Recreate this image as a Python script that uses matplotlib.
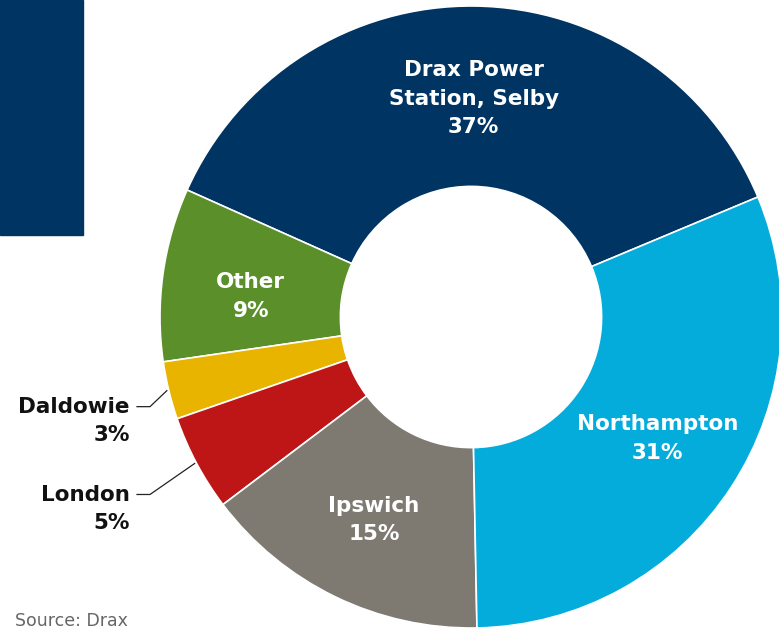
import numpy as np
import matplotlib.pyplot as plt
from matplotlib.patches import Rectangle

# data
sites = ["Drax Power\nStation, Selby", "Other", "Daldowie", "London", "Ipswich", "Northampton"]
shares = [37, 9, 3, 5, 15, 31]
colors = ["#003463", "#5a8f2a", "#e9b400", "#be1616", "#7e7a72", "#04acdc"]
inside = [True, True, False, False, True, True]

W, H = 779, 630
fig = plt.figure(figsize=(W / 100, H / 100), dpi=100)
ax = fig.add_axes([0, 0, 1, 1])

cx, cy, R = 471, H - 317, 311
wedges, _ = ax.pie(shares, colors=colors, startangle=22.7, counterclock=True,
                   radius=R, center=(cx, cy), frame=True,
                   wedgeprops=dict(width=R * 0.58, edgecolor="white", linewidth=1.2))
ax.set_xlim(0, W)
ax.set_ylim(0, H)
ax.set_aspect("auto")
ax.axis("off")

# navy block top-left
ax.add_patch(Rectangle((0, H - 235), 83, 235, color="#003463", zorder=0))

fs = 15.5
ls = 1.52
nudge = {"Other": -10, "Ipswich": -3, "Northampton": 0}
for w, name, pct, ins in zip(wedges, sites, shares, inside):
    mid = np.deg2rad((w.theta1 + w.theta2) / 2)
    if ins:
        r = R * 0.715
        dy = nudge.get(name, -4)
        ax.text(cx + r * np.cos(mid), cy + r * np.sin(mid) + dy, f"{name}\n{pct}%",
                ha="center", va="center", color="white", fontsize=fs,
                fontweight="bold", linespacing=ls)
    else:
        ex, ey = cx + R * np.cos(mid), cy + R * np.sin(mid)
        ly = ey - 16 if name == "Daldowie" else ey - 31
        ax.plot([137, 150, ex - 2], [ly, ly, ey], color="#222222", lw=0.9)
        ax.text(130, ly - 14.5, f"{name}\n{pct}%", ha="right", va="center",
                color="#111111", fontsize=fs, fontweight="bold", linespacing=ls)

ax.text(15, H - 621, "Source: Drax", ha="left", va="center", color="#666666", fontsize=12.5)

fig.savefig("out.png", dpi=100)
